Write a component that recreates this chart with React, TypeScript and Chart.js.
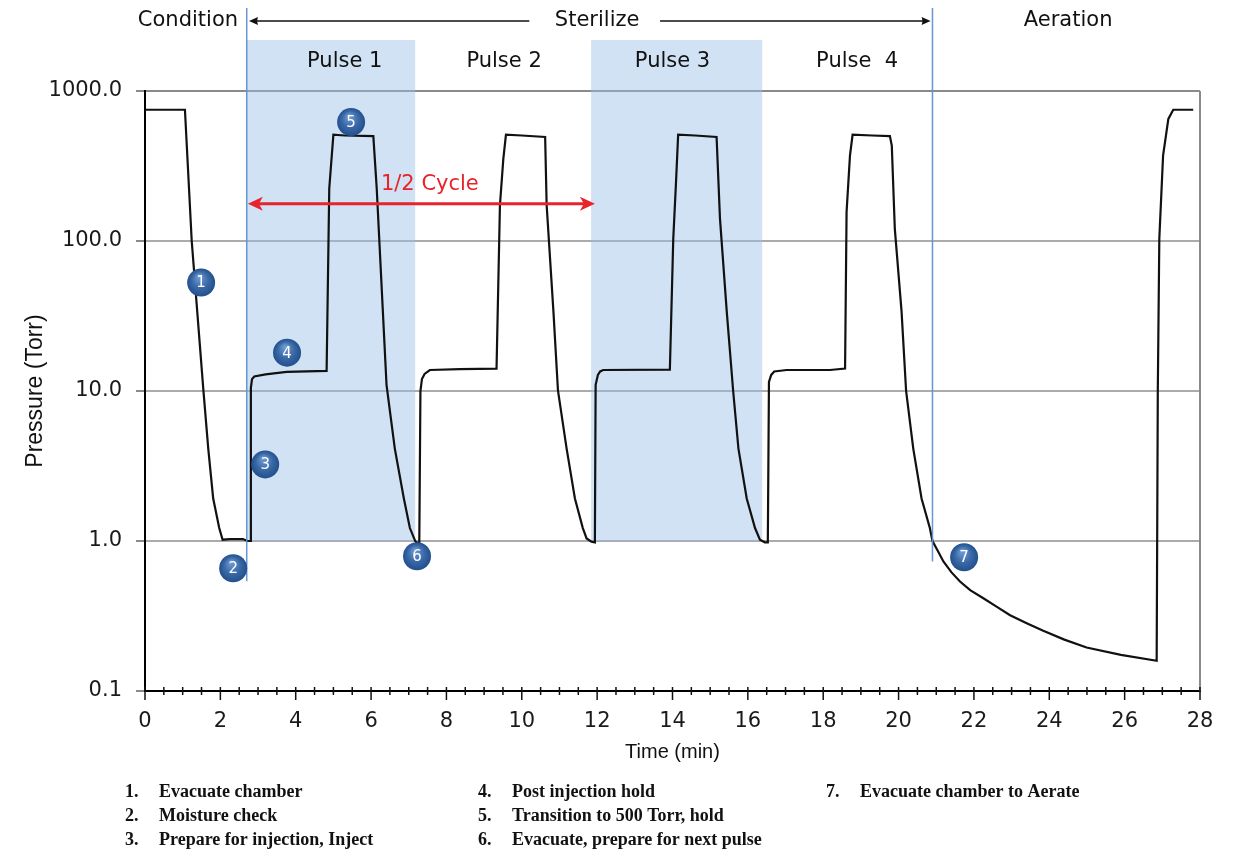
import React, { useEffect, useRef } from "react";
import { Chart, registerables } from "chart.js";

Chart.register(...registerables);

// ---- data (time in minutes, pressure in Torr) ----
const timeMin = [
  0, 1.06, 1.24, 1.55, 1.68, 1.81, 1.97, 2.06, 2.25, 2.6, 2.72, 2.79,
  2.81, 2.84, 2.9, 3.2, 3.76, 4.82, 4.89, 5.0, 5.3, 6.06, 6.15, 6.41, 6.63, 6.87, 7.03, 7.17, 7.22, 7.28,
  7.31, 7.35, 7.42, 7.56, 8.36, 9.33, 9.42, 9.51, 9.58, 10.0, 10.62, 10.66, 10.84, 10.96, 11.19, 11.41, 11.62, 11.72, 11.85, 11.94,
  11.96, 12.02, 12.08, 12.16, 13.93, 14.02, 14.09, 14.15, 14.6, 15.17, 15.26, 15.44, 15.61, 15.75, 15.97, 16.19, 16.32, 16.45, 16.53,
  16.56, 16.62, 16.7, 17.03, 18.18, 18.58, 18.62, 18.71, 18.78, 19.3, 19.77, 19.82, 19.9, 20.08, 20.2, 20.39, 20.61, 20.83, 20.9,
  21.05, 21.19, 21.4, 21.63, 21.9, 22.25, 22.6, 22.96, 23.4, 23.84, 24.4, 24.99, 25.9, 26.85,
  26.88, 26.92, 27.02, 27.16, 27.29, 27.82,
];
const pressureTorr = [
  750, 750, 100, 10.1, 4.1, 1.92, 1.22, 1.02, 1.03, 1.03, 1.0, 1.0,
  10.5, 12.0, 12.5, 12.9, 13.4, 13.6, 224, 512, 505, 500, 224, 11.0, 4.13, 1.92, 1.22, 1.0, 0.97, 0.98,
  10.0, 12.0, 13.0, 13.8, 14.0, 14.1, 173, 353, 512, 505, 494, 173, 33.8, 10.1, 4.13, 1.92, 1.22, 1.04, 0.99, 0.98,
  11.0, 12.8, 13.5, 13.8, 13.9, 103, 237, 512, 505, 494, 141, 33.8, 10.0, 4.13, 1.92, 1.22, 1.02, 0.98, 0.98,
  11.5, 12.8, 13.5, 13.8, 13.8, 14.1, 156, 371, 512, 505, 500, 433, 121, 33.7, 10.0, 4.13, 1.92, 1.22, 1.0,
  0.85, 0.73, 0.62, 0.537, 0.47, 0.415, 0.365, 0.32, 0.283, 0.252, 0.22, 0.195, 0.174, 0.159,
  10, 103, 371, 652, 750, 750,
];

const xTickValues = [0, 2, 4, 6, 8, 10, 12, 14, 16, 18, 20, 22, 24, 26, 28];
const yTickValues = [0.1, 1, 10, 100, 1000];

const phaseLabels = ["Condition", "Sterilize", "Aeration"];
const phaseLabelTimes = [1.14, 12.0, 24.5];
const phaseBoundaryTimes = [2.7, 20.9];
const phaseBoundaryLowP = [0.54, 0.73];
const sterilizeArrowLeft = [10.2, 2.76]; // from, to (head)
const sterilizeArrowRight = [13.67, 20.85];

const pulseLabels = ["Pulse 1", "Pulse 2", "Pulse 3", "Pulse  4"];
const pulseLabelTimes = [5.3, 9.53, 14.0, 18.9];
const shadedStart = [2.68, 11.84];
const shadedEnd = [7.17, 16.38];

const halfCycleSpan = [2.73, 11.94];
const halfCyclePressure = 177;
const halfCycleLabel = "1/2 Cycle";
const halfCycleLabelTime = 7.56;
const halfCycleLabelPressure = 237;

const stepNumbers = ["1", "2", "3", "4", "5", "6", "7"];
const stepTimes = [1.49, 2.34, 3.19, 3.77, 5.47, 7.22, 21.74];
const stepPressures = [52.8, 0.658, 3.24, 18.0, 621, 0.791, 0.779];

const noteNumbers = ["1.", "2.", "3.", "4.", "5.", "6.", "7."];
const noteTexts = [
  "Evacuate chamber",
  "Moisture check",
  "Prepare for injection, Inject",
  "Post injection hold",
  "Transition to 500 Torr, hold",
  "Evacuate, prepare for next pulse",
  "Evacuate chamber to Aerate",
];

const SANS = '"DejaVu Sans", "Liberation Sans", sans-serif';
const ARIAL = '"Liberation Sans", Arial, sans-serif';
const SERIF = '"Liberation Serif", "Times New Roman", serif';

function arrowHead(ctx: CanvasRenderingContext2D, tipX: number, tipY: number, dir: number, len: number, half: number, notch: number) {
  ctx.beginPath();
  ctx.moveTo(tipX, tipY);
  ctx.lineTo(tipX - dir * len, tipY - half);
  ctx.lineTo(tipX - dir * (len - notch), tipY);
  ctx.lineTo(tipX - dir * len, tipY + half);
  ctx.closePath();
  ctx.fill();
}

const annotatePlugin = {
  id: "annotate",
  beforeDatasetsDraw(chart: any) {
    const { ctx, chartArea, scales } = chart;
    const x = scales.x;
    const y = scales.y;
    ctx.save();
    ctx.fillStyle = "rgba(150,190,230,0.45)";
    const top = chartArea.top - 51;
    const bottom = y.getPixelForValue(1);
    for (let i = 0; i < shadedStart.length; i++) {
      const x0 = x.getPixelForValue(shadedStart[i]);
      const x1 = x.getPixelForValue(shadedEnd[i]);
      ctx.fillRect(x0, top, x1 - x0, bottom - top);
    }
    // right frame line
    ctx.strokeStyle = "#8a8a8a";
    ctx.lineWidth = 2;
    ctx.beginPath();
    ctx.moveTo(chartArea.right, chartArea.top);
    ctx.lineTo(chartArea.right, chartArea.bottom);
    ctx.stroke();
    ctx.restore();
  },
  afterDatasetsDraw(chart: any) {
    const { ctx, chartArea, scales } = chart;
    const x = scales.x;
    const y = scales.y;
    ctx.save();

    // x-axis ticks (major every 2, minor every 0.5)
    ctx.strokeStyle = "#111";
    ctx.lineWidth = 1.5;
    const b = chartArea.bottom;
    for (let k = 0; k <= 56; k++) {
      const t = k / 2;
      const px = x.getPixelForValue(t);
      const major = k % 4 === 0;
      ctx.beginPath();
      ctx.moveTo(px, b - 4);
      ctx.lineTo(px, b + (major ? 9 : 4));
      ctx.stroke();
    }

    // phase boundary blue lines
    ctx.strokeStyle = "rgba(95,145,212,0.95)";
    ctx.lineWidth = 1.5;
    for (let i = 0; i < phaseBoundaryTimes.length; i++) {
      const px = x.getPixelForValue(phaseBoundaryTimes[i]);
      ctx.beginPath();
      ctx.moveTo(px, 8);
      ctx.lineTo(px, y.getPixelForValue(phaseBoundaryLowP[i]));
      ctx.stroke();
    }

    // phase labels
    ctx.fillStyle = "#111";
    ctx.font = `21px ${SANS}`;
    ctx.textAlign = "center";
    ctx.textBaseline = "middle";
    const phaseY = 21;
    for (let i = 0; i < phaseLabels.length; i++) {
      ctx.fillText(phaseLabels[i], x.getPixelForValue(phaseLabelTimes[i]), phaseY);
    }
    // sterilize arrows
    ctx.strokeStyle = "#111";
    ctx.lineWidth = 1.6;
    for (const seg of [sterilizeArrowLeft, sterilizeArrowRight]) {
      const a = x.getPixelForValue(seg[0]);
      const h = x.getPixelForValue(seg[1]);
      const dir = h > a ? 1 : -1;
      ctx.beginPath();
      ctx.moveTo(a, phaseY);
      ctx.lineTo(h - dir * 6, phaseY);
      ctx.stroke();
      arrowHead(ctx, h, phaseY, dir, 9, 4, 1);
    }

    // pulse labels
    ctx.font = `21px ${SANS}`;
    for (let i = 0; i < pulseLabels.length; i++) {
      ctx.fillText(pulseLabels[i], x.getPixelForValue(pulseLabelTimes[i]), chartArea.top - 29);
    }

    // half cycle arrow
    ctx.strokeStyle = "#e8232b";
    ctx.fillStyle = "#e8232b";
    ctx.lineWidth = 3;
    const hy = y.getPixelForValue(halfCyclePressure);
    const ha = x.getPixelForValue(halfCycleSpan[0]);
    const hb = x.getPixelForValue(halfCycleSpan[1]);
    ctx.beginPath();
    ctx.moveTo(ha + 8, hy);
    ctx.lineTo(hb - 8, hy);
    ctx.stroke();
    arrowHead(ctx, ha, hy, -1, 15, 7, 4);
    arrowHead(ctx, hb, hy, 1, 15, 7, 4);
    ctx.font = `21px ${SANS}`;
    ctx.fillText(halfCycleLabel, x.getPixelForValue(halfCycleLabelTime), y.getPixelForValue(halfCycleLabelPressure));

    // numbered step badges
    for (let i = 0; i < stepNumbers.length; i++) {
      const cx = x.getPixelForValue(stepTimes[i]);
      const cy = y.getPixelForValue(stepPressures[i]);
      const r = 14;
      const g = ctx.createRadialGradient(cx - 2, cy - 6, 1, cx, cy, r);
      g.addColorStop(0, "#6e9ad2");
      g.addColorStop(0.55, "#3a69a7");
      g.addColorStop(1, "#22508c");
      ctx.beginPath();
      ctx.arc(cx, cy, r, 0, Math.PI * 2);
      ctx.fillStyle = g;
      ctx.fill();
      ctx.fillStyle = "#ffffff";
      ctx.font = `15px ${SANS}`;
      ctx.textAlign = "center";
      ctx.textBaseline = "middle";
      ctx.fillText(stepNumbers[i], cx, cy + 1);
    }

    // notes below the chart
    const colX = [125, 478, 826];
    const rowY = [792, 816, 840];
    ctx.fillStyle = "#111";
    ctx.font = `bold 18px ${SERIF}`;
    ctx.textAlign = "left";
    ctx.textBaseline = "middle";
    for (let i = 0; i < noteTexts.length; i++) {
      const col = Math.floor(i / 3);
      const row = i % 3;
      ctx.fillText(noteNumbers[i], colX[col], rowY[row]);
      ctx.fillText(noteTexts[i], colX[col] + 34, rowY[row]);
    }

    ctx.restore();
  },
};

export default function App() {
  const canvasRef = useRef<HTMLCanvasElement | null>(null);

  useEffect(() => {
    if (!canvasRef.current) return;
    const chart = new Chart(canvasRef.current, {
      type: "line",
      data: {
        datasets: [
          {
            data: timeMin.map((t, i) => ({ x: t, y: pressureTorr[i] })),
            borderColor: "#111",
            borderWidth: 2.2,
            pointRadius: 0,
            tension: 0,
            fill: false,
          },
        ],
      },
      options: {
        responsive: false,
        animation: false,
        layout: { padding: { left: 0, top: 91, right: 42, bottom: 86 } },
        plugins: {
          legend: { display: false },
          tooltip: { enabled: false },
          title: { display: false },
        },
        scales: {
          x: {
            type: "linear",
            min: 0,
            max: 28,
            afterBuildTicks: (s: any) => {
              s.ticks = xTickValues.map((v) => ({ value: v }));
            },
            afterFit: (s: any) => {
              s.height = 74;
            },
            grid: { display: true, drawOnChartArea: false, drawTicks: false },
            border: { display: true, color: "#000", width: 2 },
            ticks: {
              padding: 18,
              autoSkip: false,
              maxRotation: 0,
              color: "#1a1a1a",
              font: { family: SANS, size: 21 },
              callback: (v: any) => String(v),
            },
            title: {
              display: true,
              text: "Time (min)",
              color: "#111",
              font: { family: ARIAL, size: 20 },
              padding: { top: 0, bottom: 1 },
            },
          },
          y: {
            type: "logarithmic",
            min: 0.1,
            max: 1000,
            afterBuildTicks: (s: any) => {
              s.ticks = yTickValues.map((v) => ({ value: v }));
            },
            afterFit: (s: any) => {
              s.width = 145;
            },
            grid: {
              color: (c: any) =>
                c.tick && c.tick.value === 0.1 ? "rgba(0,0,0,0)" : c.tick && c.tick.value === 1000 ? "#8a8a8a" : "#ababab",
              tickColor: "#8a8a8a",
              lineWidth: 2,
              tickLength: 9,
              drawTicks: true,
            },
            border: { display: true, color: "#000", width: 2 },
            ticks: {
              padding: 14,
              color: "#1a1a1a",
              font: { family: SANS, size: 21 },
              callback: (v: any) => Number(v).toFixed(1),
            },
            title: {
              display: true,
              text: "Pressure (Torr)",
              color: "#111",
              font: { family: ARIAL, size: 23 },
              padding: { top: 22, bottom: 0 },
            },
          },
        },
      },
      plugins: [annotatePlugin],
    });
    return () => chart.destroy();
  }, []);

  return (
    <div style={{ position: "fixed", left: 0, top: 0, width: 1242, height: 851, background: "#fff" }}>
      <canvas ref={canvasRef} width={1242} height={851} />
    </div>
  );
}
